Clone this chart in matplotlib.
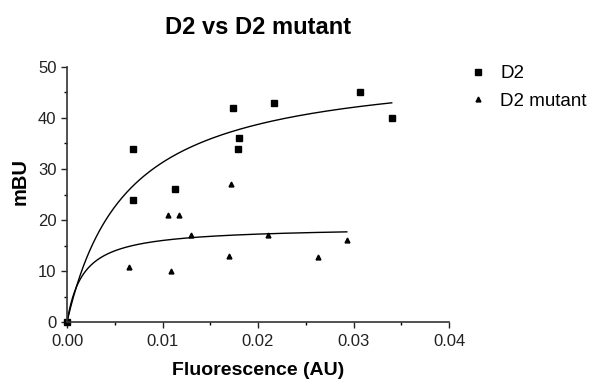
import numpy as np
import matplotlib.pyplot as plt

plt.rcParams['font.family'] = ['Liberation Sans', 'DejaVu Sans']

# D2 (squares)
d2_x = [0.0, 0.0069, 0.0069, 0.0113, 0.0174, 0.0180, 0.0179, 0.0217, 0.0307, 0.0340]
d2_y = [0.0, 34.0, 24.0, 26.0, 42.0, 36.0, 34.0, 43.0, 45.0, 40.0]

# D2 mutant (triangles)
mut_x = [0.0, 0.0065, 0.0106, 0.0117, 0.0109, 0.0130, 0.0170, 0.0172, 0.0210, 0.0263, 0.0293]
mut_y = [0.0, 10.8, 21.0, 21.0, 10.0, 17.0, 13.0, 27.0, 17.0, 12.8, 16.0]

# one-site binding fit parameters (Bmax, Kd)
d2_bmax, d2_kd = 50.9, 0.00627
mut_bmax, mut_kd = 18.7, 0.0017


def hyperbola(x, bmax, kd):
    return bmax * x / (kd + x)


fig = plt.figure(figsize=(5.96, 3.83), dpi=100)
ax = fig.add_axes([67/596, 1-322/383, (449-67)/596, (322-67)/383])

xs = np.linspace(0, max(d2_x), 300)
ax.plot(xs, hyperbola(xs, d2_bmax, d2_kd), color='black', lw=1)
xs = np.linspace(0, max(mut_x), 300)
ax.plot(xs, hyperbola(xs, mut_bmax, mut_kd), color='black', lw=1)

ax.plot(d2_x, d2_y, 's', color='black', ms=4, ls='none', label='D2', clip_on=False)
ax.plot(mut_x, mut_y, '^', color='black', ms=3.5, ls='none', label='D2 mutant', clip_on=False)

ax.set_xlim(0, 0.04)
ax.set_ylim(0, 50)
ax.set_xticks([0, 0.01, 0.02, 0.03, 0.04])
ax.set_xticklabels(['0.00', '0.01', '0.02', '0.03', '0.04'])
ax.set_xticks([0.005, 0.015, 0.025, 0.035], minor=True)
ax.set_yticks([0, 10, 20, 30, 40, 50])
ax.set_yticks([5, 15, 25, 35, 45], minor=True)
ax.tick_params(which='major', length=4, width=1, labelsize=12, colors='#222222')
ax.tick_params(axis='x', which='major', pad=5)
ax.tick_params(which='minor', length=2.5, width=1)
for s in ['top', 'right']:
    ax.spines[s].set_visible(False)
for s in ['left', 'bottom']:
    ax.spines[s].set_linewidth(1.2)
    ax.spines[s].set_color('#333333')

ax.set_xlabel('Fluorescence (AU)', fontsize=14, fontweight='bold')
ax.set_ylabel('mBU', fontsize=14.5, fontweight='bold')
ax.xaxis.set_label_coords(0.5, -0.155)
ax.yaxis.set_label_coords(-0.097, 0.55)

fig.suptitle('D2 vs D2 mutant', fontsize=17, fontweight='bold', x=258/596, y=1-28/383, va='center')

ax.legend(loc='upper left', bbox_to_anchor=(470/596, 1-65/383), bbox_transform=fig.transFigure,
          frameon=False, fontsize=13.5, handlelength=0.8, handletextpad=0.8, labelspacing=0.55,
          borderpad=0, borderaxespad=0)

fig.savefig('out.png', dpi=100)
